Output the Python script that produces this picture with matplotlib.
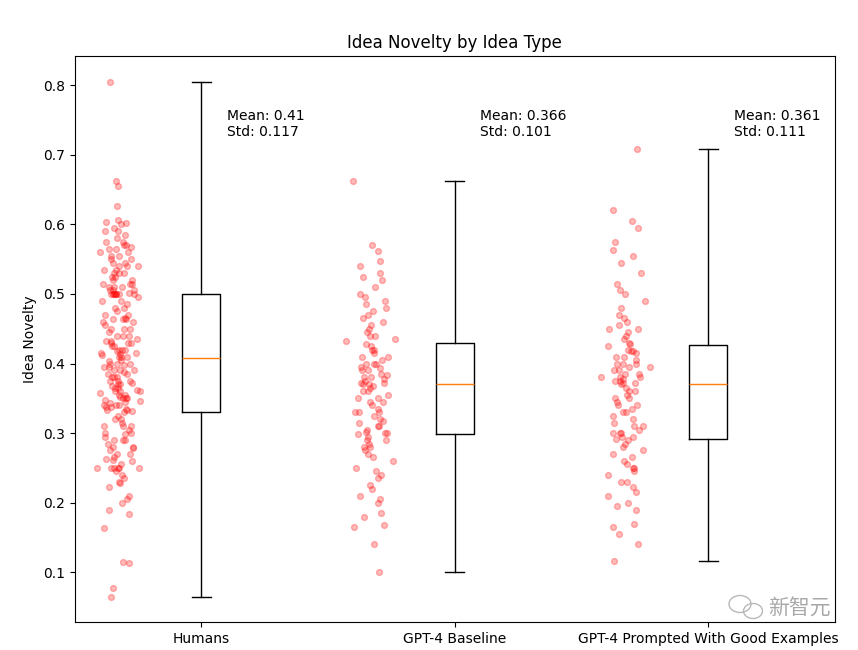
import numpy as np
import matplotlib
matplotlib.use("Agg")
import matplotlib.pyplot as plt
from matplotlib.patches import Ellipse

categories = ["Humans", "GPT-4 Baseline", "GPT-4 Prompted With Good Examples"]

humans = [
    0.805, 0.662, 0.655, 0.626, 0.607, 0.604, 0.602, 0.60, 0.59, 0.59, 0.585,
    0.575, 0.57, 0.567, 0.565, 0.565, 0.56, 0.555, 0.55, 0.55,
    0.545, 0.54, 0.54, 0.535, 0.53, 0.53, 0.525, 0.52, 0.515, 0.515, 0.51,
    0.595, 0.58, 0.575, 0.57, 0.56, 0.555, 0.545, 0.54, 0.535, 0.53, 0.525,
    0.52, 0.515, 0.51, 0.51, 0.505, 0.505, 0.502, 0.505,
    0.5, 0.5, 0.5, 0.5, 0.5, 0.5, 0.5, 0.5,
    0.495, 0.49, 0.49, 0.485, 0.48, 0.48, 0.475, 0.47, 0.465, 0.464,
    0.464, 0.464, 0.46, 0.455, 0.45, 0.45, 0.45, 0.445, 0.44, 0.44,
    0.435, 0.433, 0.433, 0.43, 0.43, 0.425, 0.425, 0.42, 0.42, 0.418,
    0.415, 0.415, 0.413, 0.41, 0.41, 0.41, 0.47, 0.46, 0.44, 0.43,
    0.42, 0.412,
    0.405, 0.40, 0.40, 0.398, 0.395, 0.39, 0.39, 0.385, 0.385, 0.38,
    0.38, 0.375, 0.375, 0.37, 0.37, 0.365, 0.365, 0.36, 0.36, 0.357,
    0.355, 0.355, 0.35, 0.35, 0.35, 0.348, 0.345, 0.34, 0.34, 0.338,
    0.335, 0.333, 0.333, 0.332, 0.403, 0.395, 0.388, 0.38, 0.372, 0.367,
    0.36, 0.352, 0.346, 0.343, 0.337, 0.40, 0.39, 0.375, 0.362, 0.341,
    0.33, 0.325, 0.32, 0.32, 0.315, 0.31, 0.31, 0.305, 0.30, 0.30,
    0.298, 0.295, 0.29, 0.29, 0.285, 0.28, 0.278, 0.275, 0.27, 0.27,
    0.265, 0.262, 0.26, 0.255, 0.25, 0.25, 0.25, 0.25, 0.25, 0.25,
    0.245, 0.24, 0.235, 0.23, 0.228, 0.222, 0.21, 0.205, 0.20, 0.19,
    0.183, 0.163, 0.115, 0.113, 0.077, 0.065, 0.31, 0.29, 0.28, 0.263,
]

baseline = [
    0.662, 0.57, 0.562, 0.548, 0.54, 0.53, 0.525, 0.52, 0.51, 0.5,
    0.495, 0.49, 0.485, 0.48, 0.475, 0.47, 0.465, 0.46, 0.455, 0.45,
    0.445, 0.44, 0.44, 0.435, 0.432,
    0.428, 0.425, 0.42, 0.42, 0.415, 0.41, 0.405, 0.40, 0.40, 0.395,
    0.393, 0.39, 0.385, 0.383, 0.38, 0.38, 0.378, 0.375, 0.372, 0.372,
    0.37, 0.371, 0.41, 0.40, 0.39,
    0.368, 0.365, 0.36, 0.355, 0.35, 0.35, 0.345, 0.34, 0.335, 0.33,
    0.33, 0.325, 0.32, 0.318, 0.315, 0.31, 0.305, 0.30, 0.30, 0.299,
    0.36, 0.345, 0.33, 0.31, 0.302,
    0.295, 0.29, 0.29, 0.285, 0.28, 0.275, 0.27, 0.265, 0.26, 0.25,
    0.245, 0.24, 0.235, 0.225, 0.22, 0.21, 0.205, 0.20, 0.185, 0.18,
    0.168, 0.165, 0.14, 0.10, 0.28,
]

prompted = [
    0.708, 0.62, 0.605, 0.595, 0.575, 0.563, 0.555, 0.545, 0.53, 0.515,
    0.505, 0.50, 0.49, 0.48, 0.47, 0.465, 0.46, 0.455, 0.45, 0.45,
    0.445, 0.44, 0.435, 0.43, 0.428,
    0.425, 0.42, 0.418, 0.415, 0.41, 0.405, 0.40, 0.40, 0.395, 0.39,
    0.39, 0.385, 0.38, 0.38, 0.378, 0.375, 0.375, 0.372, 0.372, 0.41,
    0.40, 0.385, 0.418, 0.395, 0.38,
    0.37, 0.365, 0.36, 0.355, 0.35, 0.345, 0.34, 0.335, 0.33, 0.325,
    0.32, 0.315, 0.31, 0.305, 0.30, 0.30, 0.295, 0.292, 0.36, 0.35,
    0.34, 0.33, 0.31, 0.30, 0.295,
    0.29, 0.285, 0.28, 0.275, 0.27, 0.265, 0.26, 0.255, 0.25, 0.245,
    0.24, 0.23, 0.222, 0.215, 0.21, 0.20, 0.195, 0.19, 0.17, 0.165,
    0.155, 0.14, 0.116, 0.25, 0.23,
]

# box statistics
box_whislo = [0.065, 0.100, 0.116]
box_q1 = [0.331, 0.298, 0.291]
box_med = [0.408, 0.370, 0.371]
box_q3 = [0.500, 0.430, 0.427]
box_whishi = [0.805, 0.662, 0.708]
means = [0.41, 0.366, 0.361]
stds = [0.117, 0.101, 0.111]

series = [humans, baseline, prompted]


def van_der_corput(k, base):
    q, denom = 0.0, 1.0
    while k > 0:
        denom *= base
        k, r = divmod(k, base)
        q += r / denom
    return q


fig = plt.figure(figsize=(8.58, 6.5), dpi=100)
ax = fig.add_axes([0.0871, 0.0426, 0.8861, 0.8712])

positions = np.arange(1, len(categories) + 1)

stats = []
for i in range(len(categories)):
    stats.append(dict(whislo=box_whislo[i], q1=box_q1[i], med=box_med[i],
                      q3=box_q3[i], whishi=box_whishi[i], fliers=[]))
ax.bxp(stats, positions=positions, widths=0.15, showfliers=False)

# deterministic jitter (low-discrepancy sequences) for x positions only
for i, vals in enumerate(series):
    n = len(vals)
    u1 = np.array([van_der_corput(k + 1 + 7 * i, 2) for k in range(n)])
    u2 = np.array([van_der_corput(k + 1 + 11 * i, 3) for k in range(n)])
    u3 = np.array([van_der_corput(k + 1 + 5 * i, 5) for k in range(n)])
    jit = (u1 + u2 + u3 - 1.5) * 0.075
    ax.scatter(positions[i] - 0.325 + jit, vals, color="red", alpha=0.27, s=18)

for i in range(len(categories)):
    ax.text(positions[i] + 0.1, 0.744, f"Mean: {means[i]}\nStd: {stds[i]}",
            ha="left", va="center", fontsize=10)

ax.set_xticks(positions)
ax.set_xticklabels(categories)
ax.set_ylabel("Idea Novelty")
ax.set_title("Idea Novelty by Idea Type")

# watermark
fig.text(768 / 858, 1 - 609 / 650, "新智元", fontsize=15, color="#a8a8a8",
         family=["Noto Sans CJK SC", "DejaVu Sans"], ha="left", va="center")
fig.patches.append(Ellipse((740 / 858, 1 - 604 / 650), 22 / 858, 17 / 650,
                           transform=fig.transFigure, fill=False,
                           edgecolor="#b8b8b8", linewidth=1.0))
fig.patches.append(Ellipse((753 / 858, 1 - 611 / 650), 19 / 858, 15 / 650,
                           transform=fig.transFigure, fill=False,
                           edgecolor="#b8b8b8", linewidth=1.0))

fig.savefig("out.png", dpi=100)
